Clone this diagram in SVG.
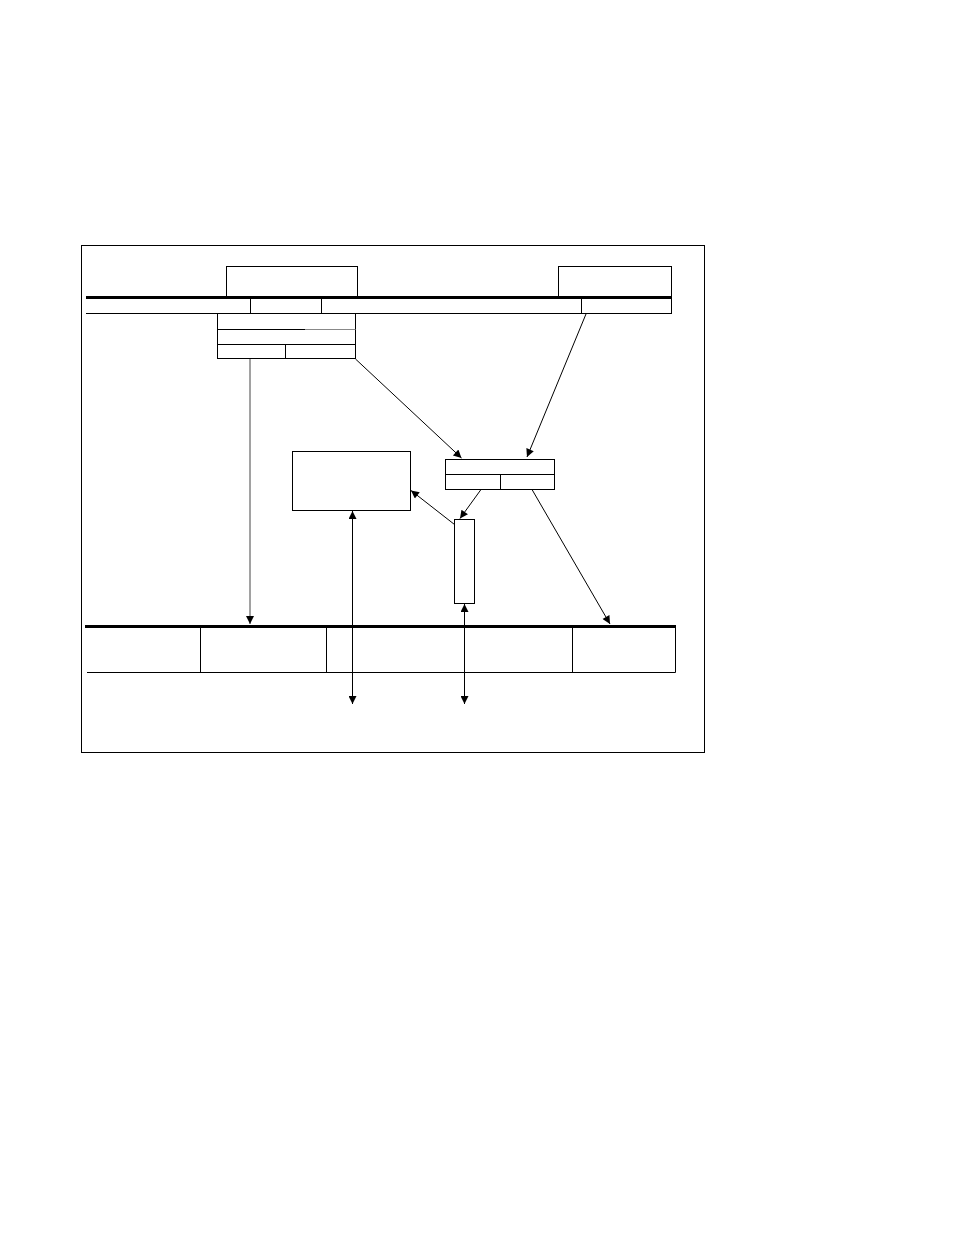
<svg xmlns="http://www.w3.org/2000/svg" width="954" height="1235" viewBox="0 0 954 1235">
<style>
.b{fill:none;stroke:#000;stroke-width:1}
.k{fill:none;stroke:#000;stroke-width:3}
.c{fill:none;stroke:#000;stroke-width:1}
</style>
<defs>
<marker id="ah" viewBox="0 0 10 10" refX="10" refY="5" markerWidth="10" markerHeight="8" markerUnits="userSpaceOnUse" orient="auto-start-reverse">
<path d="M0,0 L10,5 L0,10 z" fill="#000"/>
</marker>
</defs>
<rect width="954" height="1235" fill="#fff"/>
<g id="frame"><rect class="b" x="81.5" y="245.5" width="623" height="507"/></g>
<g id="top-bus">
<rect class="b" x="226.5" y="266.5" width="131" height="31"/>
<rect class="b" x="558.5" y="266.5" width="113" height="31"/>
<line class="b" x1="86" y1="313.5" x2="671.5" y2="313.5"/>
<line class="b" x1="250.5" y1="298" x2="250.5" y2="314"/>
<line class="b" x1="321.5" y1="298" x2="321.5" y2="314"/>
<line class="b" x1="581.5" y1="298" x2="581.5" y2="314"/>
<line class="b" x1="671.5" y1="298" x2="671.5" y2="314"/>
<line class="k" x1="86" y1="297.5" x2="672" y2="297.5"/>
</g>
<g id="upper-table">
<rect class="b" x="217.5" y="313.5" width="138" height="45"/>
<line class="b" x1="217.5" y1="329.5" x2="305" y2="329.5"/>
<line x1="305" y1="329.5" x2="355.5" y2="329.5" stroke="#888" stroke-width="1"/>
<line class="b" x1="217.5" y1="344.5" x2="355.5" y2="344.5"/>
<line class="b" x1="285.5" y1="344.5" x2="285.5" y2="358.5"/>
</g>
<g id="middle-table">
<rect class="b" x="445.5" y="459.5" width="109" height="30"/>
<line class="b" x1="445.5" y1="474.5" x2="554.5" y2="474.5"/>
<line class="b" x1="500.5" y1="474.5" x2="500.5" y2="489.5"/>
</g>
<g id="left-box"><rect class="b" x="292.5" y="451.5" width="118" height="59"/></g>
<g id="narrow-box"><rect class="b" x="454.5" y="519.5" width="20" height="84"/></g>
<g id="bottom-bus">
<line class="b" x1="87" y1="672.5" x2="675.5" y2="672.5"/>
<line class="b" x1="200.5" y1="627" x2="200.5" y2="672.5"/>
<line class="b" x1="326.5" y1="627" x2="326.5" y2="672.5"/>
<line class="b" x1="572.5" y1="627" x2="572.5" y2="672.5"/>
<line class="b" x1="675.5" y1="627" x2="675.5" y2="672.5"/>
<line class="k" x1="85" y1="626.5" x2="676" y2="626.5"/>
</g>
<g id="connectors">
<line x1="250" y1="359" x2="250" y2="624" stroke="#444" stroke-width="1" marker-end="url(#ah)"/>
<line class="c" x1="355.5" y1="359" x2="461.5" y2="458" marker-end="url(#ah)"/>
<line class="c" x1="586" y1="314" x2="527" y2="457" marker-end="url(#ah)"/>
<line class="c" x1="481" y1="489.5" x2="460" y2="518.5" marker-end="url(#ah)"/>
<line class="c" x1="454.5" y1="524.5" x2="411" y2="490.5" marker-end="url(#ah)"/>
<line class="c" x1="532" y1="489.5" x2="610" y2="624" marker-end="url(#ah)"/>
<line class="c" x1="352.5" y1="511" x2="352.5" y2="704" marker-start="url(#ah)" marker-end="url(#ah)"/>
<line class="c" x1="464.5" y1="604" x2="464.5" y2="704" marker-start="url(#ah)" marker-end="url(#ah)"/>
</g>
</svg>
